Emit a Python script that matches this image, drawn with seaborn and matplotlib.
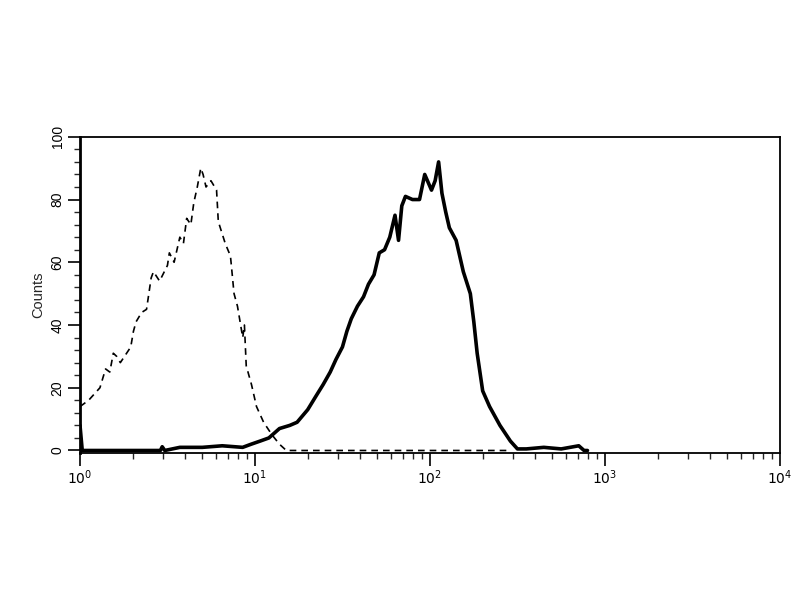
import pandas as pd
import seaborn as sns
import matplotlib.pyplot as plt
from matplotlib.ticker import LogLocator, MultipleLocator, NullFormatter

# isotype control (dashed) - fluorescence intensity vs counts
control_x = [1.0, 1.12, 1.30, 1.40, 1.48, 1.55, 1.62, 1.70, 1.95, 2.02, 2.09, 2.25, 2.40,
             2.55, 2.63, 2.85, 3.16, 3.24, 3.45, 3.72, 3.90, 4.07, 4.30, 4.47, 4.68,
             4.90, 5.05, 5.25, 5.60, 6.03, 6.10, 6.17, 6.76, 7.24, 7.59, 7.94, 8.51,
             8.70, 8.91, 9.55, 10.2, 11.2, 12.5, 13.8, 15.1, 40.0, 100.0, 282.0]
control_y = [14, 16, 20, 26, 25, 31, 30, 28, 33, 38, 41, 44, 45,
             55, 57, 54, 59, 63, 60, 68, 66, 74, 72, 79, 84,
             90, 88, 84, 86, 83, 78, 73, 66, 62, 50, 46, 36,
             40, 27, 21, 14, 9, 5, 2, 0, 0, 0, 0]

# stained sample (solid)
sample_x = [1.0, 1.03, 2.88, 2.95, 3.05, 3.72, 5.0, 6.5, 8.5, 9.5, 10.7, 12.0, 13.8,
            15.8, 17.4, 20.0, 22.4, 24.5, 26.9, 29.0, 31.6, 33.5, 35.5, 38.5, 41.7,
            44.5, 47.9, 51.3, 55.0, 58.9, 63.1, 66.1, 69.0, 72.4, 79.4, 87.1, 93.3,
            102.0, 107.0, 112.0, 117.0, 123.0, 129.0, 141.0, 155.0, 170.0, 178.0,
            186.0, 200.0, 219.0, 251.0, 288.0, 316.0, 355.0, 447.0, 562.0, 708.0,
            759.0, 794.0]
sample_y = [8, 0, 0, 1.2, 0, 1, 1, 1.5, 1, 2, 3, 4, 7,
            8, 9, 13, 17.5, 21, 25, 29, 33, 38, 42, 46, 49,
            53, 56, 63, 64, 68, 75, 67, 78, 81, 80, 80, 88,
            83, 86, 92, 82, 76, 71, 67, 57, 50, 41,
            31, 19, 14, 8, 3, 0.5, 0.5, 1, 0.5, 1.5,
            0, 0]

control = pd.DataFrame({'FL': control_x, 'Counts': control_y})
sample = pd.DataFrame({'FL': sample_x, 'Counts': sample_y})

sns.set_style('ticks')
plt.rcParams['font.family'] = ['Liberation Sans', 'DejaVu Sans']

fig = plt.figure(figsize=(8, 6), dpi=100)
ax = fig.add_axes([0.1, 0.245, 0.875, 0.527])

sns.lineplot(data=control, x='FL', y='Counts', ax=ax, color='black',
             linewidth=1.2, linestyle=(0, (4, 3)), sort=False)
sns.lineplot(data=sample, x='FL', y='Counts', ax=ax, color='black',
             linewidth=2.6, sort=False)

ax.set_xscale('log')
ax.set_xlim(1, 10000)
ax.set_ylim(-0.8, 100)
ax.set_xticks([1, 10, 100, 1000, 10000])
ax.set_xticklabels([r'$10^0$', r'$10^1$', r'$10^2$', r'$10^3$', r'$10^4$'])
ax.xaxis.set_minor_locator(LogLocator(base=10, subs=range(2, 10)))
ax.xaxis.set_minor_formatter(NullFormatter())
ax.set_yticks([0, 20, 40, 60, 80, 100])
ax.yaxis.set_minor_locator(MultipleLocator(4))
ax.tick_params(axis='both', which='major', direction='out', length=9, width=1.2,
               labelsize=10, colors='black', pad=2)
ax.tick_params(axis='both', which='minor', direction='out', length=4.5, width=1.0)
for lbl in ax.get_yticklabels():
    lbl.set_rotation(90)
    lbl.set_va('center')
ax.set_xlabel('')
ax.set_ylabel('Counts', fontsize=10.5, labelpad=4)
for side in ['left', 'right', 'top', 'bottom']:
    ax.spines[side].set_visible(True)
    ax.spines[side].set_linewidth(1.3)
    ax.spines[side].set_color('black')
ax.spines['left'].set_linewidth(2)

fig.savefig('out.png', dpi=100)
